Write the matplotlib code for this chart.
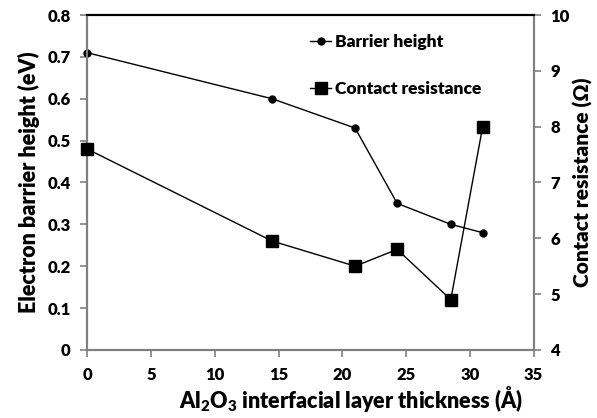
import matplotlib
matplotlib.use("Agg")
import matplotlib.pyplot as plt

W = 'heavy'
plt.rcParams['font.family'] = ['Lato', 'DejaVu Sans']
plt.rcParams['font.weight'] = W
plt.rcParams['mathtext.fontset'] = 'custom'
plt.rcParams['mathtext.rm'] = 'Lato:heavy'
plt.rcParams['mathtext.it'] = 'Lato:heavy'
plt.rcParams['mathtext.bf'] = 'Lato:heavy'

thickness = [0, 14.5, 21, 24.3, 28.5, 31]
barrier_height = [0.71, 0.60, 0.53, 0.35, 0.30, 0.28]
thickness_r = [0, 14.5, 21, 24.3, 28.5, 31]
contact_resistance = [7.6, 5.95, 5.5, 5.8, 4.9, 8.0]
x_ticks = [0, 5, 10, 15, 20, 25, 30, 35]
y_ticks = [0, 0.1, 0.2, 0.3, 0.4, 0.5, 0.6, 0.7, 0.8]
y2_ticks = [4, 5, 6, 7, 8, 9, 10]

fig = plt.figure(figsize=(5.97, 4.18), dpi=100)
ax = fig.add_axes([0.146, 0.163, 0.748, 0.801])
ax2 = ax.twinx()

l1, = ax.plot(thickness, barrier_height, color='black', lw=1, marker='o', ms=5, label='Barrier height', clip_on=False, zorder=5)
l2, = ax2.plot(thickness_r, contact_resistance, color='black', lw=1, marker='s', ms=8, label='Contact resistance', clip_on=False, zorder=5)

ax.set_xlim(0, 35)
ax.set_ylim(0, 0.8)
ax2.set_ylim(4, 10)
ax.set_xticks(x_ticks)
ax.set_yticks(y_ticks)
ax.set_yticklabels(['0'] + [f'{v:.1f}' for v in y_ticks[1:]])
ax2.set_yticks(y2_ticks)

grey = '#808080'
for a in (ax, ax2):
    for s in ['left', 'right', 'bottom']:
        a.spines[s].set_color(grey)
        a.spines[s].set_linewidth(1.5)
    a.spines['top'].set_color('black')
    a.spines['top'].set_linewidth(1.5)
    a.tick_params(direction='out', color=grey, width=1.2, length=5, labelsize=12, pad=7)

for lbl in ax.get_xticklabels() + ax.get_yticklabels() + ax2.get_yticklabels():
    lbl.set_fontweight(W)

ax.set_xlabel('Al$_2$O$_3$ interfacial layer thickness (Å)', fontsize=15.5, fontweight=W, labelpad=1, x=0.59)
ax.set_ylabel('Electron barrier height (eV)', fontsize=15.5, fontweight=W, labelpad=5)
ax2.set_ylabel('Contact resistance (Ω)', fontsize=15, fontweight=W, labelpad=2)

leg = ax.legend(handles=[l1, l2], loc='upper left', bbox_to_anchor=(0.465, 0.99), frameon=False,
                labelspacing=1.8, handlelength=1.2, handletextpad=0.2, prop={'weight': W, 'size': 12.5})

fig.savefig('out.png', dpi=100)
